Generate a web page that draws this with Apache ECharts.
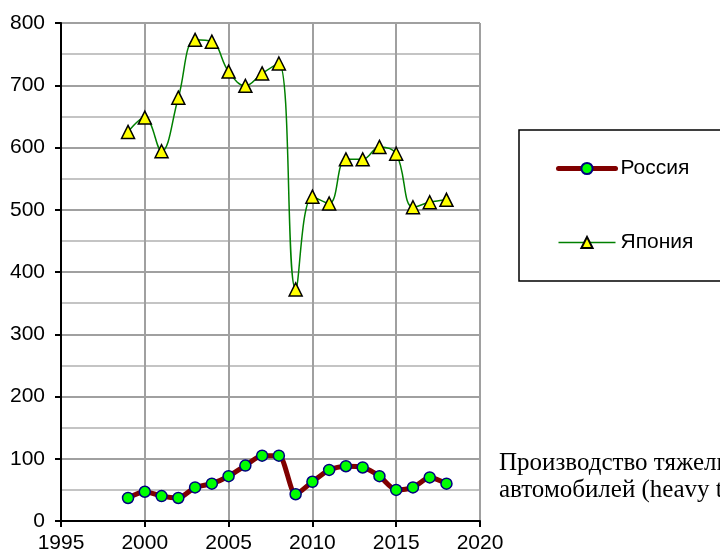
<!DOCTYPE html>
<html>
<head>
<meta charset="utf-8">
<script src="https://cdn.jsdelivr.net/npm/echarts@6/dist/echarts.min.js"></script>
<style>
  html, body { margin: 0; padding: 0; background: #fff; }
  #main { width: 720px; height: 555px; }
</style>
</head>
<body>
<div id="main"></div>
<script>
// годы и значения (тыс. шт.)
const years = [1999, 2000, 2001, 2002, 2003, 2004, 2005, 2006, 2007, 2008,
               2009, 2010, 2011, 2012, 2013, 2014, 2015, 2016, 2017, 2018];
const russia = [37, 47, 40, 37, 54, 60, 72, 89, 105, 105,
                43, 63, 82, 88, 86, 72, 50, 54, 70, 60];
const japan = [625, 648, 594, 680, 773, 770, 722, 699, 719, 735,
               372, 521, 510, 581, 581, 601, 590, 504, 512, 516];
const noteLines = ["Производство тяжелых грузовых автомобилей", "автомобилей (heavy trucks), тыс. шт."];

const myChart = echarts.init(document.getElementById("main"));

const pairs = (vals) => years.map((y, i) => [y, vals[i]]);

const font = "Arial, 'Liberation Sans', sans-serif";

let options = {
  animation: false,
  backgroundColor: "#fff",
  grid: { left: 61, right: 240, top: 23, bottom: 34 },
  xAxis: {
    type: "value",
    min: 1995,
    max: 2020,
    interval: 5,
    axisLine: { show: true, onZero: false, lineStyle: { color: "#000", width: 2 } },
    axisTick: { show: true, length: 6, lineStyle: { color: "#000", width: 2 } },
    axisLabel: { color: "#000", fontSize: 21, fontFamily: font, margin: 12, formatter: (v) => String(v) },
    splitLine: { show: true, showMinLine: false, showMaxLine: true, lineStyle: { color: "#a0a0a0", width: 2 } },
  },
  yAxis: {
    type: "value",
    min: 0,
    max: 800,
    interval: 100,
    axisLine: { show: true, lineStyle: { color: "#000", width: 2 } },
    axisTick: { show: true, length: 6, lineStyle: { color: "#000", width: 2 } },
    axisLabel: { color: "#000", fontSize: 21, fontFamily: font, margin: 16 },
    splitLine: { show: true, showMinLine: false, showMaxLine: true, lineStyle: { color: "#a0a0a0", width: 2 } },
    minorTick: { show: false, splitNumber: 2 },
    minorSplitLine: { show: true, lineStyle: { color: "#c4c4c4", width: 2 } },
  },
  legend: {
    orient: "vertical",
    left: 519,
    top: 130,
    padding: [28, 300, 28, 37],
    borderColor: "#000",
    borderWidth: 1.5,
    itemWidth: 57,
    itemHeight: 14,
    itemGap: 53,
    textStyle: { color: "#000", fontSize: 21, lineHeight: 21, fontFamily: font },
    data: [
      { name: "Россия", lineStyle: { width: 5, cap: "round" } },
      { name: "Япония", lineStyle: { width: 1.5 } },
    ],
  },
  series: [
    {
      name: "Россия",
      type: "line",
      data: pairs(russia),
      smooth: 0.25,
      symbol: "circle",
      symbolSize: 11,
      lineStyle: { color: "#800000", width: 5 },
      itemStyle: { color: "#00ff00", borderColor: "#000080", borderWidth: 1.5 },
      z: 3,
    },
    {
      name: "Япония",
      type: "line",
      data: pairs(japan),
      smooth: 0.4,
      symbol: "triangle",
      symbolSize: 13,
      lineStyle: { color: "#008000", width: 1.5 },
      itemStyle: { color: "#ffff00", borderColor: "#000", borderWidth: 1.5 },
      z: 3,
    },
  ],
  graphic: [
    {
      type: "text",
      left: 499,
      top: 450,
      style: {
        text: noteLines.join("\n"),
        fill: "#000",
        font: "25px 'Times New Roman', 'Liberation Serif', serif",
        lineHeight: 27,
      },
    },
  ],
};

myChart.setOption(options);
</script>
</body>
</html>
